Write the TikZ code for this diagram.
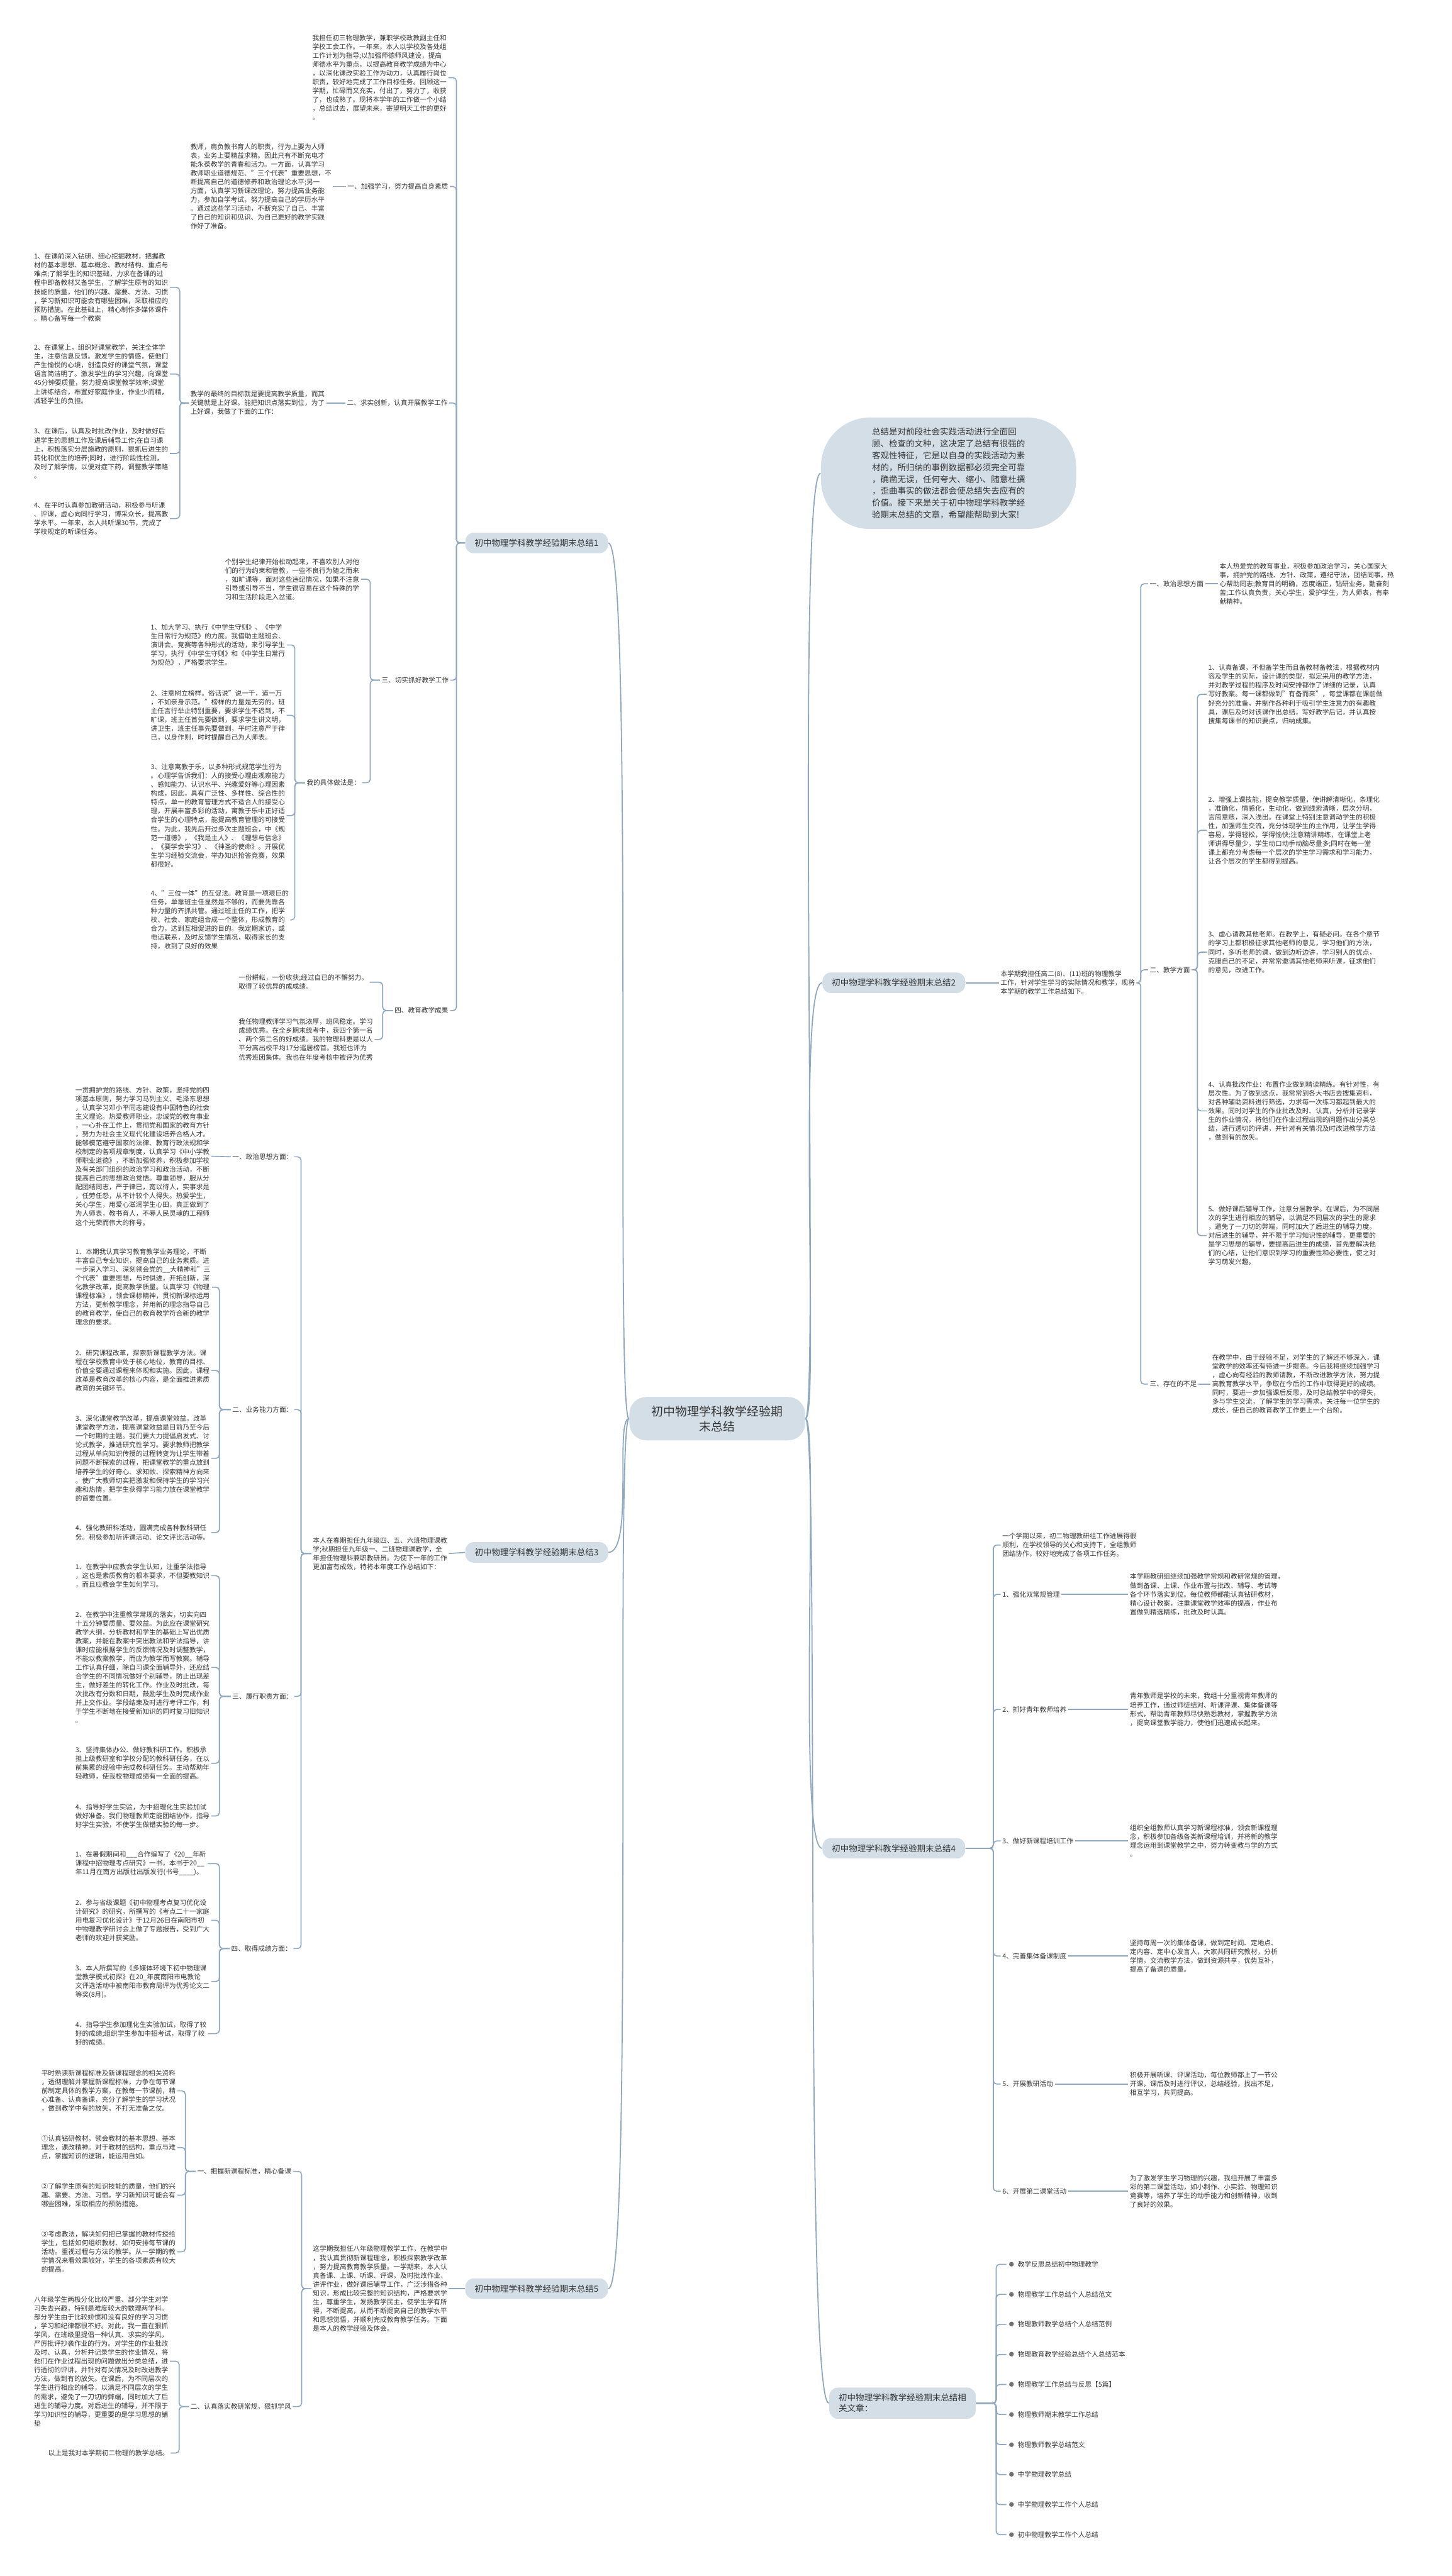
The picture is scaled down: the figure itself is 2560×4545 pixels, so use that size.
\documentclass[tikz,border=0pt]{standalone}
\usepackage{fontspec}
\setmainfont{Noto Sans CJK SC}
\definecolor{lc}{HTML}{8FA8BF}
\definecolor{nf}{HTML}{D3DEE7}
\definecolor{tx}{HTML}{333333}
\newcommand\lf{\fontsize{3.55pt}{4.68pt}\selectfont}
\newcommand\brf{\fontsize{4.5pt}{5.6pt}\selectfont}
\newcommand\cnf{\fontsize{6.3pt}{8pt}\selectfont}
\newcommand\tbf{\fontsize{4.5pt}{6.3pt}\selectfont}
\tikzset{
 leaf/.style={anchor=west,align=left,inner sep=0pt,outer xsep=0.9pt,font=\lf,text=tx},
 lab/.style={anchor=west,inner sep=0pt,outer xsep=0.9pt,font=\lf,text=tx},
 br/.style={anchor=west,fill=nf,rounded corners=4.5pt,inner xsep=5pt,minimum height=9.9pt,font=\brf,text=tx},
 conn/.style={draw=lc,line width=0.55pt,rounded corners=1.8pt},
 curv/.style={draw=lc,line width=0.6pt},
 item/.style={anchor=west,inner sep=0pt,outer xsep=0.9pt,font=\lf,text=tx}
}
\begin{document}
\begin{tikzpicture}[x=0.3pt,y=-0.3pt]
\useasboundingbox (0,0) rectangle (2560,4545);
\fill[white] (0,0) rectangle (2560,4545);

% ---------------- central node
\node[fill=nf,rounded corners=9pt,align=center,font=\cnf,text=tx,minimum width=93pt,minimum height=23pt] (cn) at (1265,2503) {初中物理学科教学经验期\\末总结};

% ================= Branch 1
\node[br] (b1) at (820,958) {初中物理学科教学经验期末总结1};
\coordinate (sp1) at (805,0);
\node[leaf] (b1i) at (548,137) {我担任初三物理教学，兼职学校政教副主任和\\学校工会工作。一年来，本人以学校及各处组\\工作计划为指导;以加强师德师风建设，提高\\师德水平为重点，以提高教育教学成绩为中心\\，以深化课改实验工作为动力，认真履行岗位\\职责，较好地完成了工作目标任务。回顾这一\\学期，忙碌而又充实，付出了，努力了，收获\\了，也成熟了。现将本学年的工作做一个小结\\，总结过去，展望未来，寄望明天工作的更好\\。};
\node[lab] (l11) at (610,329) {一、加强学习，努力提高自身素质};
\node[leaf] (b11) at (333,329) {教师，肩负教书育人的职责，行为上要为人师\\表，业务上要精益求精。因此只有不断充电才\\能永葆教学的青春和活力。一方面，认真学习\\教师职业道德规范、"三个代表"重要思想，不\\断提高自己的道德修养和政治理论水平;另一\\方面，认真学习新课改理论，努力提高业务能\\力，参加自学考试，努力提高自己的学历水平\\。通过这些学习活动，不断充实了自己、丰富\\了自己的知识和见识、为自己更好的教学实践\\作好了准备。};
\node[lab] (l12) at (609,711) {二、求实创新，认真开展教学工作};
\node[leaf] (b12) at (333,711) {教学的最终的目标就是要提高教学质量，而其\\关键就是上好课。能把知识点落实到位，为了\\上好课，我做了下面的工作：};
\coordinate (bx12) at (317,0);
\node[leaf] (b12a) at (57,507) {1、在课前深入钻研、细心挖掘教材，把握教\\材的基本思想、基本概念、教材结构、重点与\\难点;了解学生的知识基础，力求在备课的过\\程中即备教材又备学生，了解学生原有的知识\\技能的质量，他们的兴趣、需要、方法、习惯\\，学习新知识可能会有哪些困难，采取相应的\\预防措施。在此基础上，精心制作多媒体课件\\。精心备写每一个教案};
\node[leaf] (b12b) at (57,660) {2、在课堂上，组织好课堂教学，关注全体学\\生，注意信息反馈。激发学生的情感，使他们\\产生愉悦的心境，创造良好的课堂气氛，课堂\\语言简洁明了。激发学生的学习兴趣，向课堂\\45分钟要质量，努力提高课堂教学效率;课堂\\上讲练结合，布置好家庭作业，作业少而精，\\减轻学生的负担。};
\node[leaf] (b12c) at (57,800) {3、在课后，认真及时批改作业，及时做好后\\进学生的思想工作及课后辅导工作;在自习课\\上，积极落实分层施教的原则，狠抓后进生的\\转化和优生的培养;同时，进行阶段性检测，\\及时了解学情，以便对症下药，调整教学策略\\。};
\node[leaf] (b12d) at (57,915) {4、在平时认真参加教研活动，积极参与听课\\、评课，虚心向同行学习，博采众长，提高教\\学水平。一年来，本人共听课30节，完成了\\学校规定的听课任务。};
\node[lab] (l13) at (670,1200) {三、切实抓好教学工作};
\coordinate (bx13) at (653,0);
\node[leaf] (b13a) at (394,1022) {个别学生纪律开始松动起来，不喜欢别人对他\\们的行为约束和管教，一些不良行为随之而来\\，如旷课等，面对这些违纪情况，如果不注意\\引导或引导不当，学生很容易在这个特殊的学\\习和生活阶段走入岔道。};
\node[lab] (l13b) at (538,1381) {我的具体做法是：};
\coordinate (bx13b) at (520,0);
\node[leaf] (b13b1) at (263,1138) {1、加大学习、执行《中学生守则》、《中学\\生日常行为规范》的力度。我借助主题班会、\\演讲会、竞赛等各种形式的活动，来引导学生\\学习，执行《中学生守则》和《中学生日常行\\为规范》，严格要求学生。};
\node[leaf] (b13b2) at (263,1262) {2、注意树立榜样。俗话说"说一千，道一万\\，不如亲身示范。"榜样的力量是无穷的。班\\主任言行举止特别重要，要求学生不迟到，不\\旷课，班主任首先要做到，要求学生讲文明，\\讲卫生，班主任事先要做到，平时注意严于律\\已，以身作则，时时提醒自己为人师表。};
\node[leaf] (b13b3) at (263,1439) {3、注意寓教于乐，以多种形式规范学生行为\\。心理学告诉我们：人的接受心理由观察能力\\、感知能力、认识水平、兴趣爱好等心理因素\\构成，因此，具有广泛性、多样性、综合性的\\特点，单一的教育管理方式不适合人的接受心\\理，开展丰富多彩的活动，寓教于乐中正好适\\合学生的心理特点，能提高教育管理的可接受\\性。为此，我先后开过多次主题班会，中《规\\范一道德》，《我是主人》、《理想与信念》\\、《要学会学习》、《神圣的使命》。开展优\\生学习经验交流会，举办知识抢答竞赛，效果\\都很好。};
\node[leaf] (b13b4) at (263,1623) {4、"三位一体"的互促法。教育是一项艰巨的\\任务，单靠班主任显然是不够的，而要先靠各\\种力量的齐抓共管。通过班主任的工作，把学\\校、社会、家庭组合成一个整体，形成教育的\\合力，达到互相促进的目的。我定期家访，或\\电话联系，及时反馈学生情况，取得家长的支\\持，收到了良好的效果};
\node[lab] (l14) at (693,1783) {四、教育教学成果};
\coordinate (bx14) at (675,0);
\node[leaf] (b14a) at (418,1733) {一份耕耘，一份收获;经过自已的不懈努力。\\取得了较优异的成成绩。};
\node[leaf] (b14b) at (418,1834) {我任物理教师学习气氛浓厚，班风稳定。学习\\成绩优秀。在全乡期末统考中，获四个第一名\\、两个第二名的好成绩。我的物理科更是以人\\平分高出校平均17分遥居榜首。我班也评为\\优秀班团集体。我也在年度考核中被评为优秀};

\foreach \c in {b1i,l11,l12,l13,l14} \draw[conn] (b1.west) -- (sp1 |- b1.west) |- (\c.east);
\draw[conn] (l11.west) -- (b11.east);
\draw[conn] (l12.west) -- (b12.east);
\foreach \c in {b12a,b12b,b12c,b12d} \draw[conn] (b12.west) -- (bx12 |- b12.west) |- (\c.east);
\foreach \c in {b13a,l13b} \draw[conn] (l13.west) -- (bx13 |- l13.west) |- (\c.east);
\foreach \c in {b13b1,b13b2,b13b3,b13b4} \draw[conn] (l13b.west) -- (bx13b |- l13b.west) |- (\c.east);
\foreach \c in {b14a,b14b} \draw[conn] (l14.west) -- (bx14 |- l14.west) |- (\c.east);

% ================= Branch 3
\node[br] (b3) at (820,2739) {初中物理学科教学经验期末总结3};
\node[leaf] (b3i) at (549,2741) {本人在春期担任九年级四、五、六班物理课教\\学;秋期担任九年级一、二班物理课教学，全\\年担任物理科兼职教研员。为使下一年的工作\\更加富有成效，特将本年度工作总结如下：};
\coordinate (sp3) at (531,0);
\node[lab] (l31) at (407,2041) {一、政治思想方面：};
\node[leaf] (b31) at (130,2040) {一贯拥护党的路线、方针、政策，坚持党的四\\项基本原则，努力学习马列主义、毛泽东思想\\，认真学习邓小平同志建设有中国特色的社会\\主义理论。热爱教师职业，忠诚党的教育事业\\，一心扑在工作上，贯彻党和国家的教育方针\\，努力为社会主义现代化建设培养合格人才。\\能够模范遵守国家的法律、教育行政法规和学\\校制定的各项规章制度，认真学习《中小学教\\师职业道德》，不断加强修养，积极参加学校\\及有关部门组织的政治学习和政治活动，不断\\提高自己的思想政治觉悟。尊重领导，服从分\\配团结同志，严于律已，宽以待人，实事求是\\，任劳任怨，从不计较个人得失。热爱学生，\\关心学生，用爱心滋润学生心田，真正做到了\\为人师表，教书育人，不辱人民灵魂的工程师\\这个光荣而伟大的称号。};
\node[lab] (l32) at (407,2487) {二、业务能力方面：};
\coordinate (bx3) at (387,0);
\node[leaf] (b32a) at (130,2271) {1、本期我认真学习教育教学业务理论，不断\\丰富自己专业知识，提高自己的业务素质。进\\一步深入学习、深刻领会党的\_\_大精神和"三\\个代表"重要思想，与时俱进，开拓创新，深\\化教学改革，提高教学质量。认真学习《物理\\课程标准》，领会课标精神，贯彻新课标运用\\方法，更新教学理念，并用新的理念指导自己\\的教育教学，使自己的教育教学符合新的教学\\理念的要求。};
\node[leaf] (b32b) at (130,2418) {2、研究课程改革，探索新课程教学方法。课\\程在学校教育中处于核心地位，教育的目标、\\价值全要通过课程来体现和实施。因此，课程\\改革是教育改革的核心内容，是全面推进素质\\教育的关键环节。};
\node[leaf] (b32c) at (130,2573) {3、深化课堂教学改革，提高课堂效益。改革\\课堂教学方法，提高课堂效益是目前乃至今后\\一个时期的主题。我们要大力提倡启发式、讨\\论式教学，推进研究性学习。要求教师把教学\\过程从单向知识传授的过程转变为让学生带着\\问题不断探索的过程，把课堂教学的重点放到\\培养学生的好奇心、求知欲、探索精神方向来\\。使广大教师切实把激发和保持学生的学习兴\\趣和热情，把学生获得学习能力放在课堂教学\\的首要位置。};
\node[leaf] (b32d) at (130,2704) {4、强化教研科活动，圆满完成各种教科研任\\务。积极参加听评课活动、论文评比活动等。};
\node[lab] (l33) at (407,2993) {三、履行职责方面：};
\node[leaf] (b33a) at (130,2780) {1、在教学中应教会学生认知，注重学法指导\\，这也是素质教育的根本要求，不但要教知识\\，而且应教会学生如何学习。};
\node[leaf] (b33b) at (130,2942) {2、在教学中注重教学常规的落实，切实向四\\十五分钟要质量、要效益。为此应在课堂研究\\教学大纲，分析教材和学生的基础上写出优质\\教案，并能在教案中突出教法和学法指导，讲\\课时应能根据学生的反馈情况及时调整教学，\\不能以教案教学，而应为教学而写教案。辅导\\工作认真仔细，除自习课全面辅导外，还应结\\合学生的不同情况做好个别辅导，防止出现差\\生，做好差生的转化工作。作业及时批改，每\\次批改有分数和日期，鼓励学生及时完成作业\\并上交作业。学段结束及时进行考评工作，利\\于学生不断地在接受新知识的同时复习旧知识\\。};
\node[leaf] (b33c) at (130,3111) {3、坚持集体办公、做好教科研工作。积极承\\担上级教研室和学校分配的教科研任务，在以\\前集累的经验中完成教科研任务。主动帮助年\\轻教师，使我校物理成绩有一全面的提高。};
\node[leaf] (b33d) at (130,3204) {4、指导好学生实验，为中招理化生实验加试\\做好准备。我们物理教师定能团结协作，指导\\好学生实验，不使学生做错实验的每一步。};
\node[lab] (l34) at (405,3438) {四、取得成绩方面：};
\node[leaf] (b34a) at (130,3288) {1、在暑假期间和\_\_\_合作编写了《20\_\_年新\\课程中招物理考点研究》一书，本书于20\_\_\\年11月在南方出版社出版发行(书号\_\_\_\_)。};
\node[leaf] (b34b) at (130,3388) {2、参与省级课题《初中物理考点复习优化设\\计研究》的研究，所撰写的《考点二十一家庭\\用电复习优化设计》于12月26日在南阳市初\\中物理教学研讨会上做了专题报告，受到广大\\老师的欢迎并获奖励。};
\node[leaf] (b34c) at (130,3496) {3、本人所撰写的《多媒体环境下初中物理课\\堂教学模式初探》在20\_年度南阳市电教论\\文评选活动中被南阳市教育局评为优秀论文二\\等奖(8月)。};
\node[leaf] (b34d) at (130,3588) {4、指导学生参加理化生实验加试，取得了较\\好的成绩;组织学生参加中招考试，取得了较\\好的成绩。};

\draw[conn] (b3.west) -- (b3i.east);
\foreach \c in {l31,l32,l33,l34} \draw[conn] (b3i.west) -- (sp3 |- b3i.west) |- (\c.east);
\draw[conn] (l31.west) -- (b31.east);
\foreach \c in {b32a,b32b,b32c,b32d} \draw[conn] (l32.west) -- (bx3 |- l32.west) |- (\c.east);
\foreach \c in {b33a,b33b,b33c,b33d} \draw[conn] (l33.west) -- (bx3 |- l33.west) |- (\c.east);
\foreach \c in {b34a,b34b,b34c,b34d} \draw[conn] (l34.west) -- (bx3 |- l34.west) |- (\c.east);

% ================= Branch 5
\node[br] (b5) at (820,4038) {初中物理学科教学经验期末总结5};
\node[leaf] (b5i) at (549,4038) {这学期我担任八年级物理教学工作，在教学中\\，我认真贯彻新课程理念，积极探索教学改革\\，努力提高教育教学质量。一学期来，本人认\\真备课、上课、听课、评课，及时批改作业、\\讲评作业，做好课后辅导工作，广泛涉猎各种\\知识，形成比较完整的知识结构，严格要求学\\生，尊重学生，发扬教学民主，使学生学有所\\得，不断提高，从而不断提高自己的教学水平\\和思想觉悟，并顺利完成教育教学任务。下面\\是本人的教学经验及体会。};
\coordinate (sp5) at (532,0);
\node[lab] (l51) at (345,3831) {一、把握新课程标准，精心备课};
\node[lab] (l52) at (333,4246) {二、认真落实教研常规，狠抓学风};
\coordinate (bx51) at (327,0);
\coordinate (bx52) at (316,0);
\node[leaf] (b51a) at (70,3689) {平时熟读新课程标准及新课程理念的相关资料\\，透彻理解并掌握新课程标准，力争在每节课\\前制定具体的教学方案，在教每一节课前，精\\心准备、认真备课，充分了解学生的学习状况\\，做到教学中有的放矢，不打无准备之仗。};
\node[leaf] (b51b) at (70,3789) {①认真钻研教材，领会教材的基本思想、基本\\理念，课改精神。对于教材的结构，重点与难\\点，掌握知识的逻辑，能运用自如。};
\node[leaf] (b51c) at (70,3873) {②了解学生原有的知识技能的质量，他们的兴\\趣、需要、方法、习惯，学习新知识可能会有\\哪些困难，采取相应的预防措施。};
\node[leaf] (b51d) at (70,3973) {③考虑教法，解决如何把已掌握的教材传授给\\学生，包括如何组织教材、如何安排每节课的\\活动。重视过程与方法的教学。从一学期的教\\学情况来看效果较好，学生的各项素质有较大\\的提高。};
\node[leaf] (b52a) at (57,4166) {八年级学生两极分化比较严重、部分学生对学\\习失去兴趣，特别是难度较大的数理两学科。\\部分学生由于比较娇惯和没有良好的学习习惯\\，学习和纪律都很不好。对此，我一直在狠抓\\学风，在班级里提倡一种认真、求实的学风，\\严厉批评抄袭作业的行为。对学生的作业批改\\及时、认真，分析并记录学生的作业情况，将\\他们在作业过程出现的问题做出分类总结，进\\行透彻的评讲，并针对有关情况及时改进教学\\方法，做到有的放矢。在课后，为不同层次的\\学生进行相应的辅导，以满足不同层次的学生\\的需求，避免了一刀切的弊端，同时加大了后\\进生的辅导力度。对后进生的辅导，并不限于\\学习知识性的辅导，更重要的是学习思想的铺\\垫};
\node[leaf] (b52b) at (82,4328) {以上是我对本学期初二物理的教学总结。};
\draw[conn] (b5.west) -- (b5i.east);
\foreach \c in {l51,l52} \draw[conn] (b5i.west) -- (sp5 |- b5i.west) |- (\c.east);
\foreach \c in {b51a,b51b,b51c,b51d} \draw[conn] (l51.west) -- (bx51 |- l51.west) |- (\c.east);
\foreach \c in {b52a,b52b} \draw[conn] (l52.west) -- (bx52 |- l52.west) |- (\c.east);

% ================= Right: intro bubble
\node[fill=nf,rounded corners=26pt,align=left,font=\tbf,text=tx,minimum width=135pt,minimum height=59pt] (tb) at (1673,835) {总结是对前段社会实践活动进行全面回\\顾、检查的文种，这决定了总结有很强的\\客观性特征，它是以自身的实践活动为素\\材的，所归纳的事例数据都必须完全可靠\\，确凿无误，任何夸大、缩小、随意杜撰\\，歪曲事实的做法都会使总结失去应有的\\价值。接下来是关于初中物理学科教学经\\验期末总结的文章，希望能帮助到大家!};

% ================= Branch 2
\node[br] (b2) at (1450,1734) {初中物理学科教学经验期末总结2};
\node[leaf] (b2i) at (1762,1734) {本学期我担任高二(8)、(11)班的物理教学\\工作，针对学生学习的实际情况和教学，现将\\本学期的教学工作总结如下。};
\coordinate (sp2) at (2012,0);
\node[lab] (l21) at (2025,1030) {一、政治思想方面};
\node[leaf] (b21) at (2148,1030) {本人热爱党的教育事业，积极参加政治学习，关心国家大\\事，拥护党的路线、方针、政策，遵纪守法，团结同事，热\\心帮助同志;教育目的明确，态度端正，钻研业务，勤奋刻\\苦;工作认真负责，关心学生，爱护学生，为人师表，有奉\\献精神。};
\node[lab] (l22) at (2025,1711) {二、教学方面};
\coordinate (bx22) at (2112,0);
\node[leaf] (b22a) at (2128,1225) {1、认真备课，不但备学生而且备教材备教法，根据教材内\\容及学生的实际，设计课的类型，拟定采用的教学方法，\\并对教学过程的程序及时间安排都作了详细的记录，认真\\写好教案。每一课都做到"有备而来"，每堂课都在课前做\\好充分的准备，并制作各种利于吸引学生注意力的有趣教\\具，课后及时对该课作出总结，写好教学后记，并认真按\\搜集每课书的知识要点，归纳成集。};
\node[leaf] (b22b) at (2128,1465) {2、增强上课技能，提高教学质量，使讲解清晰化，条理化\\，准确化，情感化，生动化，做到线索清晰，层次分明，\\言简意赅，深入浅出。在课堂上特别注意调动学生的积极\\性，加强师生交流，充分体现学生的主作用，让学生学得\\容易，学得轻松，学得愉快;注意精讲精练，在课堂上老\\师讲得尽量少，学生动口动手动脑尽量多;同时在每一堂\\课上都充分考虑每一个层次的学生学习需求和学习能力，\\让各个层次的学生都得到提高。};
\node[leaf] (b22c) at (2128,1680) {3、虚心请教其他老师。在教学上，有疑必问。在各个章节\\的学习上都积极征求其他老师的意见，学习他们的方法，\\同时，多听老师的课，做到边听边讲，学习别人的优点，\\克服自己的不足，并常常邀请其他老师来听课，征求他们\\的意见，改进工作。};
\node[leaf] (b22d) at (2128,1960) {4、认真批改作业：布置作业做到精读精练。有针对性，有\\层次性。为了做到这点，我常常到各大书店去搜集资料，\\对各种辅助资料进行筛选，力求每一次练习都起到最大的\\效果。同时对学生的作业批改及时、认真，分析并记录学\\生的作业情况，将他们在作业过程出现的问题作出分类总\\结，进行透切的评讲，并针对有关情况及时改进教学方法\\，做到有的放矢。};
\node[leaf] (b22e) at (2128,2180) {5、做好课后辅导工作，注意分层教学。在课后，为不同层\\次的学生进行相应的辅导，以满足不同层次的学生的需求\\，避免了一刀切的弊端，同时加大了后进生的辅导力度。\\对后进生的辅导，并不限于学习知识性的辅导，更重要的\\是学习思想的辅导，要提高后进生的成绩，首先要解决他\\们的心结，让他们意识到学习的重要性和必要性，使之对\\学习萌发兴趣。};
\node[lab] (l23) at (2025,2442) {三、存在的不足};
\node[leaf] (b23) at (2135,2442) {在教学中，由于经验不足，对学生的了解还不够深入，课\\堂教学的效率还有待进一步提高。今后我将继续加强学习\\，虚心向有经验的教师请教，不断改进教学方法，努力提\\高教育教学水平，争取在今后的工作中取得更好的成绩。\\同时，要进一步加强课后反思，及时总结教学中的得失，\\多与学生交流，了解学生的学习需求，关注每一位学生的\\成长，使自己的教育教学工作更上一个台阶。};

\draw[conn] (b2.east) -- (b2i.west);
\foreach \c in {l21,l22,l23} \draw[conn] (b2i.east) -- (sp2 |- b2i.east) |- (\c.west);
\draw[conn] (l21.east) -- (b21.west);
\draw[conn] (l23.east) -- (b23.west);
\foreach \c in {b22a,b22b,b22c,b22d,b22e} \draw[conn] (l22.east) -- (bx22 |- l22.east) |- (\c.west);

% ================= Branch 4
\node[br] (b4) at (1450,3261) {初中物理学科教学经验期末总结4};
\coordinate (sp4) at (1752,0);
\node[leaf] (b4i) at (1765,2726) {一个学期以来，初二物理教研组工作进展得很\\顺利，在学校领导的关心和支持下，全组教师\\团结协作，较好地完成了各项工作任务。};
\node[lab] (l41) at (1765,2813) {1、强化双常规管理};
\node[lab] (l42) at (1765,3016) {2、抓好青年教师培养};
\node[lab] (l43) at (1765,3248) {3、做好新课程培训工作};
\node[lab] (l44) at (1765,3451) {4、完善集体备课制度};
\node[lab] (l45) at (1765,3677) {5、开展教研活动};
\node[lab] (l46) at (1765,3866) {6、开展第二课堂活动};
\node[leaf] (b41) at (1990,2813) {本学期教研组继续加强教学常规和教研常规的管理，\\做到备课、上课、作业布置与批改、辅导、考试等\\各个环节落实到位。每位教师都能认真钻研教材，\\精心设计教案，注重课堂教学效率的提高，作业布\\置做到精选精练，批改及时认真。};
\node[leaf] (b42) at (1990,3016) {青年教师是学校的未来，我组十分重视青年教师的\\培养工作，通过师徒结对、听课评课、集体备课等\\形式，帮助青年教师尽快熟悉教材，掌握教学方法\\，提高课堂教学能力，使他们迅速成长起来。};
\node[leaf] (b43) at (1990,3248) {组织全组教师认真学习新课程标准，领会新课程理\\念，积极参加各级各类新课程培训，并将新的教学\\理念运用到课堂教学之中，努力转变教与学的方式\\。};
\node[leaf] (b44) at (1990,3451) {坚持每周一次的集体备课，做到定时间、定地点、\\定内容、定中心发言人，大家共同研究教材，分析\\学情，交流教学方法，做到资源共享，优势互补，\\提高了备课的质量。};
\node[leaf] (b45) at (1990,3677) {积极开展听课、评课活动，每位教师都上了一节公\\开课，课后及时进行评议，总结经验，找出不足，\\相互学习，共同提高。};
\node[leaf] (b46) at (1990,3866) {为了激发学生学习物理的兴趣，我组开展了丰富多\\彩的第二课堂活动，如小制作、小实验、物理知识\\竞赛等，培养了学生的动手能力和创新精神，收到\\了良好的效果。};
\foreach \c in {b4i,l41,l42,l43,l44,l45,l46} \draw[conn] (b4.east) -- (sp4 |- b4.east) |- (\c.west);
\foreach \n in {1,...,6} \draw[conn] (l4\n.east) -- (b4\n.west);

% ================= Related articles
\node[br,align=left] (b6) at (1462,4240) {初中物理学科教学经验期末总结相\\关文章：};
\coordinate (sp6) at (1757,0);
\foreach \t [count=\i] in {教学反思总结初中物理教学,物理教学工作总结个人总结范文,物理教师教学总结个人总结范例,物理教育教学经验总结个人总结范本,物理教学工作总结与反思【5篇】,物理教师期末教学工作总结,物理教师教学总结范文,中学物理教学总结,中学物理教学工作个人总结,初中物理教学工作个人总结}
{
 \node[item] (r\i) at (1775,3942+\i*53) {\textcolor{tx!70}{$\bullet$}\hspace{1.5pt}\t};
 \draw[conn] (b6.east) -- (sp6 |- b6.east) |- (r\i.west);
}

% curves from center
\foreach \b in {b1,b3,b5} \draw[curv] (\b.east) .. controls +(45,0) and +(-25,0) .. (cn.west);
\foreach \b in {b2,b4,b6,tb} \draw[curv] (\b.west) .. controls +(-45,0) and +(25,0) .. (cn.east);
\end{tikzpicture}
\end{document}
